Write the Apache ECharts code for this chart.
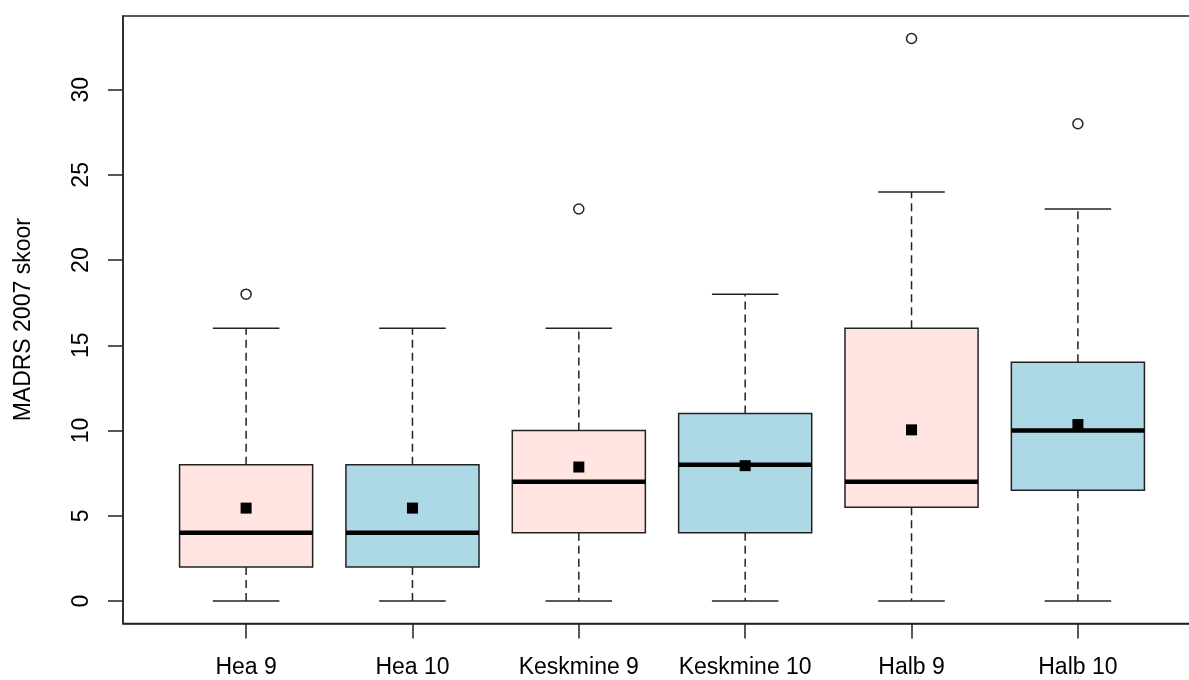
<!DOCTYPE html>
<html>
<head>
<meta charset="utf-8">
<script src="https://cdn.jsdelivr.net/npm/echarts@6/dist/echarts.min.js"></script>
<style>
html,body{margin:0;padding:0;background:#fff;overflow:hidden;width:1189px;height:680px;}
#chart{width:1230px;height:680px;}
</style>
</head>
<body>
<div id="chart"></div>
<script>
const categories = ['Hea 9', 'Hea 10', 'Keskmine 9', 'Keskmine 10', 'Halb 9', 'Halb 10'];
const lowerWhisker = [0, 0, 0, 0, 0, 0];
const q1 = [2, 2, 4, 4, 5.5, 6.5];
const median = [4, 4, 7, 8, 7, 10];
const q3 = [8, 8, 10, 11, 16, 14];
const upperWhisker = [16, 16, 16, 18, 24, 23];
const means = [5.45, 5.45, 7.86, 7.94, 10.04, 10.35];
const outlierGroup = [1, 3, 5, 6];
const outlierValue = [18, 23, 33, 28];
const yTicks = [0, 5, 10, 15, 20, 25, 30];
const yTitle = 'MADRS 2007 skoor';

const fills = ['#FFE4E1', '#ADD8E6'];
const ink = '#222';
const font = '"Liberation Sans", Arial, sans-serif';

const pos = categories.map((c, i) => i + 1);
const boxData = categories.map((c, i) => [pos[i], lowerWhisker[i], q1[i], median[i], q3[i], upperWhisker[i]]);
const meanData = categories.map((c, i) => [pos[i], means[i]]);
const outlierData = outlierGroup.map((g, k) => [g, outlierValue[k]]);

const chart = echarts.init(document.getElementById('chart'), null, {renderer: 'canvas'});

chart.setOption({
  animation: false,
  backgroundColor: '#fff',
  grid: {left: 123, top: 16, width: 1078, height: 607.5, show: true, borderColor: ink, borderWidth: 1.5, backgroundColor: 'transparent'},
  xAxis: {
    type: 'value', min: 0.26, max: 6.74,
    splitLine: {show: false},
    axisLine: {show: true, onZero: false, lineStyle: {color: ink, width: 1.5}},
    axisTick: {show: true, length: 15, customValues: pos, lineStyle: {color: ink, width: 1.5}},
    axisLabel: {customValues: pos, margin: 33, fontSize: 23, color: '#000', fontFamily: font,
      formatter: v => categories[Math.round(v) - 1] || ''}
  },
  yAxis: {
    type: 'value', min: -1.32, max: 34.32,
    name: yTitle, nameLocation: 'middle', nameGap: 88, nameRotate: 90,
    nameTextStyle: {fontSize: 23, color: '#000', fontFamily: font},
    splitLine: {show: false},
    axisLine: {show: true, lineStyle: {color: ink, width: 1.5}},
    axisTick: {show: true, length: 15, customValues: yTicks, lineStyle: {color: ink, width: 1.5}},
    axisLabel: {customValues: yTicks, rotate: 90, margin: 30, fontSize: 23, color: '#000', fontFamily: font}
  },
  series: [
    {
      type: 'custom',
      data: boxData,
      encode: {x: 0, y: [1, 2, 3, 4, 5]},
      renderItem: function (params, api) {
        const xv = api.value(0);
        const x = api.coord([xv, 0])[0];
        const yLo = api.coord([xv, api.value(1)])[1];
        const yQ1 = api.coord([xv, api.value(2)])[1];
        const yMed = api.coord([xv, api.value(3)])[1];
        const yQ3 = api.coord([xv, api.value(4)])[1];
        const yHi = api.coord([xv, api.value(5)])[1];
        const bw = api.size([0.8, 0])[0];
        const cw = bw / 2;
        const fill = fills[params.dataIndex % 2];
        const dashStyle = {stroke: ink, lineWidth: 1.5, lineDash: [8, 5], fill: null};
        const solid = {stroke: ink, lineWidth: 1.5, fill: null};
        return {
          type: 'group',
          children: [
            {type: 'line', shape: {x1: x, y1: yQ1, x2: x, y2: yLo}, style: dashStyle},
            {type: 'line', shape: {x1: x, y1: yQ3, x2: x, y2: yHi}, style: dashStyle},
            {type: 'line', shape: {x1: x - cw / 2, y1: yLo, x2: x + cw / 2, y2: yLo}, style: solid},
            {type: 'line', shape: {x1: x - cw / 2, y1: yHi, x2: x + cw / 2, y2: yHi}, style: solid},
            {type: 'rect', shape: {x: x - bw / 2, y: yQ3, width: bw, height: yQ1 - yQ3}, style: {fill: fill, stroke: ink, lineWidth: 1.5}},
            {type: 'line', shape: {x1: x - bw / 2, y1: yMed, x2: x + bw / 2, y2: yMed}, style: {stroke: '#000', lineWidth: 4.5}}
          ]
        };
      },
      z: 2
    },
    {
      type: 'scatter',
      data: meanData,
      symbol: 'rect',
      symbolSize: 11,
      itemStyle: {color: '#000', opacity: 1},
      z: 5
    },
    {
      type: 'scatter',
      data: outlierData,
      symbol: 'circle',
      symbolSize: 10,
      itemStyle: {color: '#fff', borderColor: ink, borderWidth: 1.5, opacity: 1},
      z: 5
    }
  ]
});
</script>
</body>
</html>
